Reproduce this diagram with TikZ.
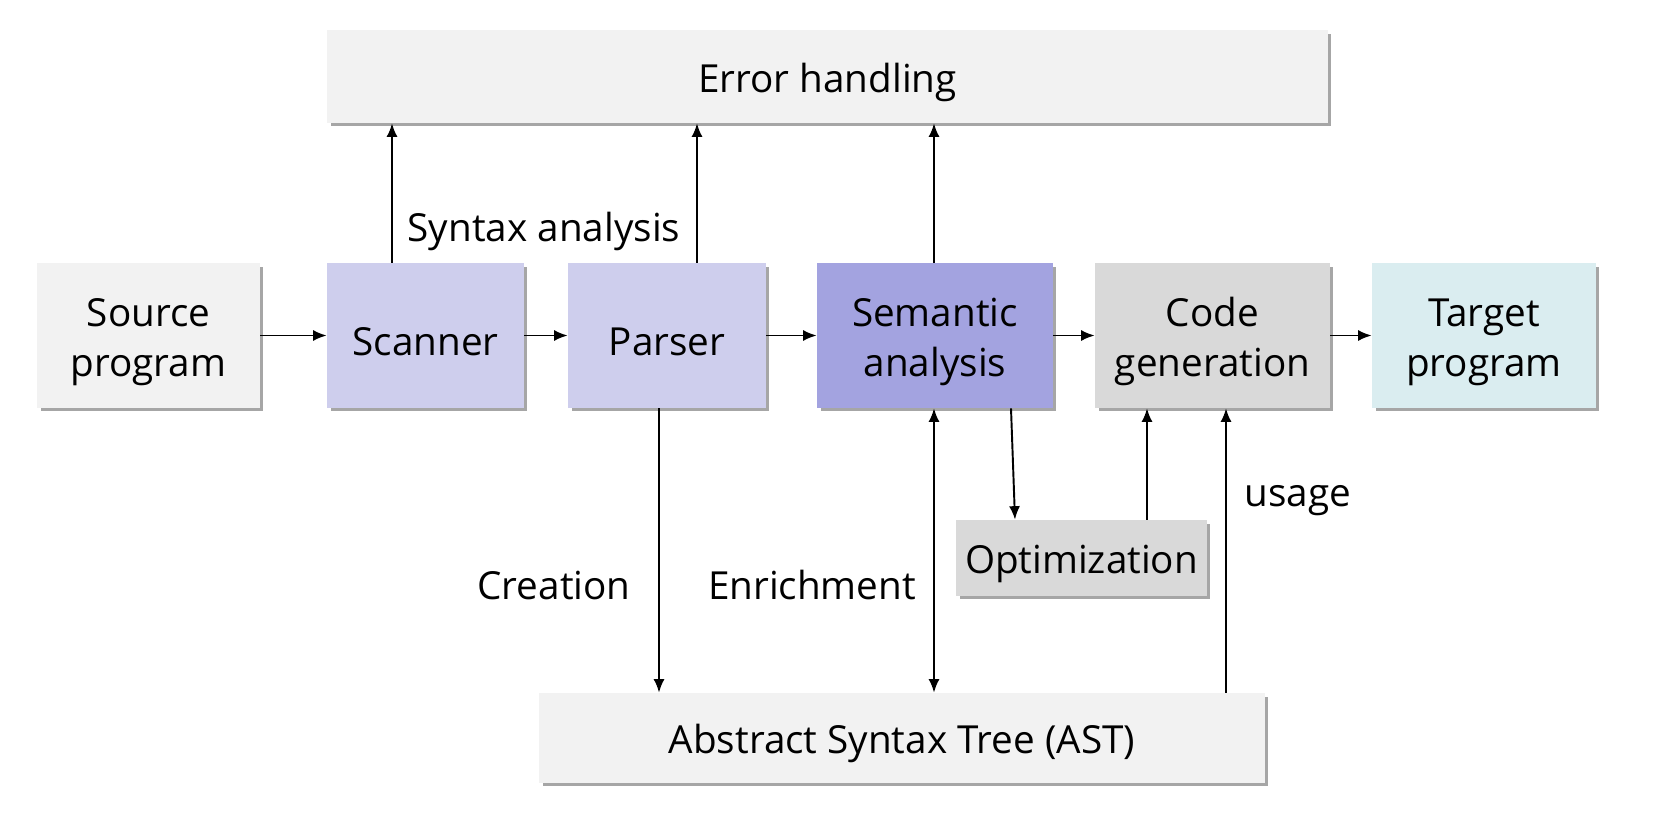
\documentclass[tikz,border=0pt]{standalone}
\usepackage{fontspec}
\setmainfont{Open Sans}
\usetikzlibrary{arrows.meta}
\usetikzlibrary{shadows}
\definecolor{cpale}{RGB}{242,242,242}
\definecolor{clav}{RGB}{206,206,237}
\definecolor{csem}{RGB}{163,163,224}
\definecolor{cgrey}{RGB}{217,217,217}
\definecolor{ctarget}{RGB}{218,237,240}
\newcommand{\boxtop}{\rule{0pt}{23pt}}

\begin{document}
\begin{tikzpicture}[x=0.02cm, y=-0.02cm,
  >={Latex[length=0.27cm,width=0.22cm]},
  box/.style={align=center, inner sep=0pt, minimum height=2.9cm,
    font=\fontsize{22}{28.5}\selectfont,
    drop shadow={shadow xshift=0.07cm, shadow yshift=-0.07cm, opacity=0.35, fill=black}},
  lbl/.style={font=\fontsize{22}{28.5}\selectfont},
  arr/.style={->, line width=1.1pt}]
\useasboundingbox (0,0) rectangle (1663,828);

% main row
\node[box, fill=cpale, minimum width=4.46cm] (src) at (148.5,335.5) {\boxtop Source\\program};
\node[box, fill=clav, minimum width=3.94cm] (scan) at (425.5,335.5) {\boxtop Scanner};
\node[box, fill=clav, minimum width=3.96cm] (pars) at (667,335.5) {\boxtop Parser};
\node[box, fill=csem, minimum width=4.72cm] (sem) at (935,335.5) {\boxtop Semantic\\analysis};
\node[box, fill=cgrey, minimum width=4.7cm] (code) at (1212.5,335.5) {\boxtop Code\\generation};
\node[box, fill=ctarget, minimum width=4.48cm] (tgt) at (1484,335.5) {\boxtop Target\\program};

% other boxes
\node[box, fill=cpale, minimum width=20.02cm, minimum height=1.86cm] (err) at (827.5,76.5) {\boxtop Error handling};
\node[box, fill=cgrey, minimum width=5.02cm, minimum height=1.52cm] (opt) at (1081.5,558) {\boxtop Optimization};
\node[box, fill=cpale, minimum width=14.52cm, minimum height=1.8cm] (ast) at (902,738) {\boxtop Abstract Syntax Tree (AST)};

% labels
\node[lbl] (lsyn) at (544,231) {Syntax analysis};
\node[lbl] (lcre) at (554,585) {Creation};
\node[lbl] (lenr) at (812,585) {Enrichment};
\node[lbl] (luse) at (1298,501) {usage};

% x positions of the vertical arrows
\coordinate (xa) at (392,0);
\coordinate (xb) at (697,0);
\coordinate (xc) at (934,0);
\coordinate (xd) at (659,0);
\coordinate (xe) at (1011,0);
\coordinate (xf) at (1015,0);
\coordinate (xg) at (1147,0);
\coordinate (xh) at (1226,0);

\draw[arr] (src) -- (scan);
\draw[arr] (scan) -- (pars);
\draw[arr] (pars) -- (sem);
\draw[arr] (sem) -- (code);
\draw[arr] (code) -- (tgt);

\draw[arr] (scan.north -| xa) -- (err.south -| xa);
\draw[arr] (pars.north -| xb) -- (err.south -| xb);
\draw[arr] (sem.north -| xc) -- (err.south -| xc);

\draw[arr] (pars.south -| xd) -- (ast.north -| xd);
\draw[arr, <->] (sem.south -| xc) -- (ast.north -| xc);
\draw[arr] (sem.south -| xe) -- (opt.north -| xf);
\draw[arr] (opt.north -| xg) -- (code.south -| xg);
\draw[arr] (ast.north -| xh) -- (code.south -| xh);

\end{tikzpicture}
\end{document}
